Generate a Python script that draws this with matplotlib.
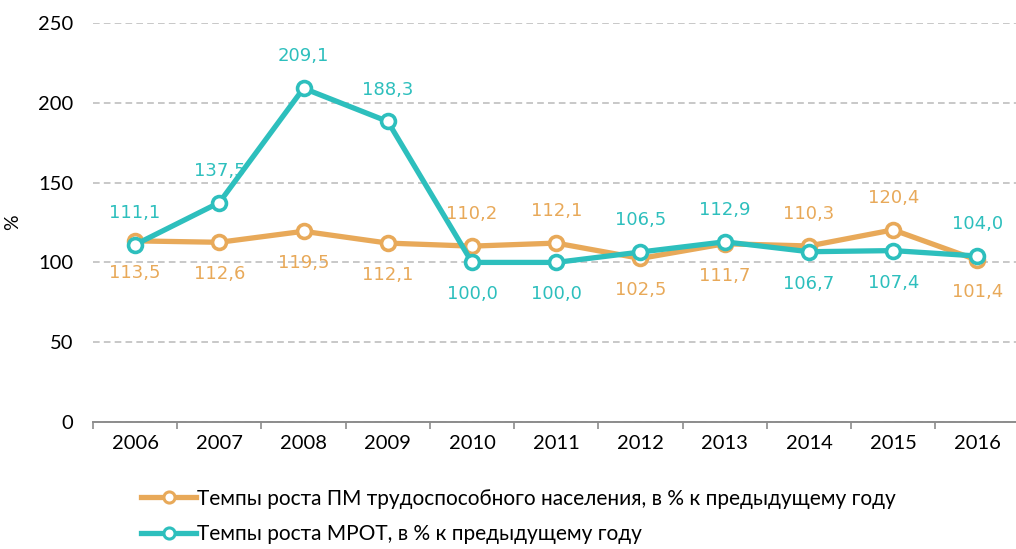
import matplotlib
matplotlib.use("Agg")
import matplotlib.pyplot as plt
from matplotlib.lines import Line2D

years = ["2006", "2007", "2008", "2009", "2010", "2011", "2012", "2013", "2014", "2015", "2016"]
pm = [113.5, 112.6, 119.5, 112.1, 110.2, 112.1, 102.5, 111.7, 110.3, 120.4, 101.4]
mrot = [111.1, 137.5, 209.1, 188.3, 100.0, 100.0, 106.5, 112.9, 106.7, 107.4, 104.0]
# label side: +1 above, -1 below
pm_side = [-1, -1, -1, -1, 1, 1, -1, -1, 1, 1, -1]
mrot_side = [1, 1, 1, 1, -1, -1, 1, 1, -1, -1, 1]

pm_name = "Темпы роста ПМ трудоспособного населения, в % к предыдущему году"
mrot_name = "Темпы роста МРОТ, в % к предыдущему году"

orange = "#E8A959"
teal = "#2DBFBD"

fig = plt.figure(figsize=(10.16, 5.49), dpi=100)
ax = fig.add_axes([0.0915, 0.2313, 0.912, 0.7268])

x = list(range(len(years)))
for vals, col, z in [(pm, orange, 2), (mrot, teal, 3)]:
    ax.plot(x, vals, color=col, lw=3.8, marker="o", markersize=10,
            markerfacecolor="white", markeredgecolor=col, markeredgewidth=2.6,
            zorder=z, solid_capstyle="round")

for vals, sides, col in [(pm, pm_side, orange), (mrot, mrot_side, teal)]:
    for i, (v, s) in enumerate(zip(vals, sides)):
        ax.annotate(f"{v:.1f}".replace(".", ","), (i, v), xytext=(0, 23 * s),
                    textcoords="offset points", ha="center", va="center",
                    fontsize=13, color=col, family="DejaVu Sans", zorder=5)

ax.set_xlim(-0.5, len(years) - 0.5)
ax.set_ylim(0, 250)
ax.set_yticks([0, 50, 100, 150, 200, 250])
ax.set_xticks(x)
ax.set_xticklabels(years)
ax.set_xticks([i - 0.5 for i in range(len(years) + 1)], minor=True)
ax.tick_params(axis="x", which="major", length=0, pad=9, labelsize=14.5)
ax.tick_params(axis="x", which="minor", length=5, color="#8c8c8c", width=1.2)
ax.tick_params(axis="y", length=0, pad=14, labelsize=14.5)
for lab in ax.get_xticklabels() + ax.get_yticklabels():
    lab.set_family("Lato")

ax.grid(axis="y", color="#bfbfbf", ls=(0, (4, 2.5)), lw=1.2)
ax.set_axisbelow(True)
for sp in ["top", "right", "left"]:
    ax.spines[sp].set_visible(False)
ax.spines["bottom"].set_color("#8c8c8c")
ax.spines["bottom"].set_linewidth(1.4)
ax.spines["bottom"].set_zorder(1)

ax.set_ylabel("%", fontsize=14, family="Lato", labelpad=12)

handles = [
    Line2D([], [], color=orange, lw=3.8, marker="o", markersize=8,
           markerfacecolor="white", markeredgecolor=orange, markeredgewidth=2.2),
    Line2D([], [], color=teal, lw=3.8, marker="o", markersize=8,
           markerfacecolor="white", markeredgecolor=teal, markeredgewidth=2.2),
]
fig.legend(handles, [pm_name, mrot_name], loc="upper left",
           bbox_to_anchor=(0.131, 0.125), frameon=False,
           prop={"family": "Lato", "size": 15}, handlelength=2.6,
           handletextpad=0.05, labelspacing=0.75, borderaxespad=0)

fig.savefig("out.png", dpi=100)
